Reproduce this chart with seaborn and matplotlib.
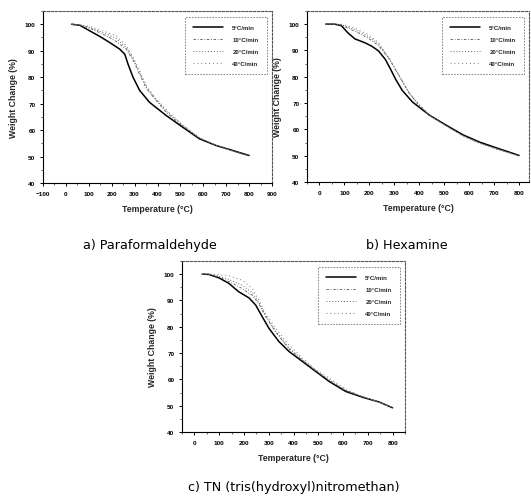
import matplotlib
matplotlib.use("Agg")
import matplotlib.pyplot as plt
from matplotlib.ticker import MultipleLocator
import seaborn as sns
import pandas as pd

# ---------------- data ----------------
rates = ["5°C/min", "10°C/min", "20°C/min", "40°C/min"]

# a) Paraformaldehyde
a_t5 = [25, 61, 104, 148, 191, 235, 257, 271, 293, 322, 365, 438, 510, 583, 655, 728, 800]
a_w5 = [100, 99.6, 97.5, 95.4, 93.1, 90.6, 88.7, 85.0, 80.0, 75.0, 70.5, 65.5, 61.1, 56.7, 54.2, 52.3, 50.4]
a_t = [25, 60, 100, 148, 190, 220, 264, 293, 322, 351, 394, 440, 510, 583, 655, 728, 800]
a_w10 = [100, 99.7, 98.6, 96.8, 95.0, 93.5, 90.5, 86.5, 81.0, 75.8, 71.2, 66.5, 61.5, 56.9, 54.2, 52.2, 50.3]
a_w20 = [100, 99.8, 98.9, 97.3, 95.8, 94.6, 91.2, 87.0, 81.8, 76.2, 71.5, 67.0, 61.8, 57.0, 54.3, 52.1, 50.2]
a_w40 = [100, 99.8, 99.2, 97.9, 96.6, 95.6, 91.8, 87.5, 82.4, 76.8, 71.8, 67.5, 62.0, 57.2, 54.3, 52.0, 50.2]

# b) Hexamine
b_t5 = [25, 61, 88, 115, 142, 183, 210, 237, 264, 285, 305, 332, 373, 441, 508, 576, 644, 712, 800]
b_w5 = [100, 100, 99.4, 96.6, 94.4, 92.9, 91.6, 89.8, 86.6, 82.9, 79.1, 74.8, 70.4, 65.4, 61.6, 57.9, 55.1, 52.9, 50.1]
b_t = [25, 61, 88, 142, 197, 237, 278, 319, 359, 400, 441, 508, 576, 644, 712, 800]
b_w10 = [100, 100, 99.6, 97.3, 94.6, 91.8, 87.0, 80.5, 73.8, 69.0, 65.3, 61.4, 57.6, 54.8, 52.6, 50.0]
b_w20 = [100, 100, 99.8, 97.9, 95.3, 92.4, 87.1, 80.4, 73.9, 69.2, 65.4, 61.3, 57.5, 54.7, 52.5, 49.9]
b_w40 = [100, 100, 100, 98.5, 96.0, 92.9, 87.3, 80.4, 74.1, 69.5, 65.6, 61.3, 57.4, 54.6, 52.4, 49.9]

# c) TN (tris(hydroxyl)nitromethan)
c_t5 = [31, 58, 99, 139, 179, 220, 247, 274, 301, 341, 382, 436, 490, 544, 611, 679, 746, 800]
c_w5 = [100, 99.9, 98.6, 96.5, 93.3, 91.0, 88.3, 83.8, 79.4, 74.4, 70.6, 66.8, 63.0, 59.2, 55.4, 53.2, 51.4, 49.2]
c_t = [31, 58, 99, 139, 193, 233, 260, 287, 328, 382, 436, 490, 544, 611, 679, 746, 800]
c_w10 = [100, 99.9, 98.9, 97.2, 94.5, 92.0, 88.8, 84.0, 78.0, 71.6, 67.2, 63.3, 59.6, 55.7, 53.3, 51.4, 49.2]
c_w20 = [100, 100, 99.2, 98.0, 95.8, 93.0, 89.2, 84.3, 78.4, 72.0, 67.5, 63.4, 59.8, 55.9, 53.4, 51.4, 49.3]
c_w40 = [100, 100, 99.8, 99.4, 97.7, 94.6, 90.2, 85.1, 79.4, 73.1, 68.1, 63.6, 60.5, 56.2, 53.5, 51.4, 49.3]

captions = ["a) Paraformaldehyde", "b) Hexamine", "c) TN (tris(hydroxyl)nitromethan)"]
xlabel = "Temperature (°C)"
ylabel = "Weight Change (%)"

panels = [
    dict(series=[(a_t5, a_w5), (a_t, a_w10), (a_t, a_w20), (a_t, a_w40)],
         xlim=(-100, 900), xticks=list(range(-100, 901, 100)),
         rect_px=(43, 12, 272, 184), cap_px=(150, 245)),
    dict(series=[(b_t5, b_w5), (b_t, b_w10), (b_t, b_w20), (b_t, b_w40)],
         xlim=(-50, 840), xticks=list(range(0, 801, 100)),
         rect_px=(307, 12, 529, 183), cap_px=(407, 245)),
    dict(series=[(c_t5, c_w5), (c_t, c_w10), (c_t, c_w20), (c_t, c_w40)],
         xlim=(-50, 850), xticks=list(range(0, 801, 100)),
         rect_px=(182, 262, 405, 433), cap_px=(294, 488)),
]

styles = [
    dict(color="black", linestyle="-", linewidth=1.1),
    dict(color="#555555", linestyle=(0, (3, 2, 1, 2)), linewidth=0.6),
    dict(color="#666666", linestyle=(0, (1, 2)), linewidth=0.7),
    dict(color="#777777", linestyle=(0, (1, 3)), linewidth=0.7),
]

# ---------------- figure ----------------
sns.set_theme(style="ticks")
plt.rcParams["font.family"] = ["Liberation Sans", "DejaVu Sans"]
plt.rcParams["font.weight"] = "bold"

W, H = 531, 502
fig = plt.figure(figsize=(W / 100, H / 100), dpi=100)
fig.patch.set_facecolor("white")

for p, cap in zip(panels, captions):
    l, t, r, b = p["rect_px"]
    ax = fig.add_axes([l / W, 1 - b / H, (r - l) / W, (b - t) / H])
    ax.set_facecolor("white")
    for (tx, wy), lab, st in zip(p["series"], rates, styles):
        df = pd.DataFrame({"T": tx, "W": wy})
        sns.lineplot(data=df, x="T", y="W", ax=ax, label=lab, **st)
    ax.set_xlim(*p["xlim"])
    ax.set_ylim(40, 105)
    ax.set_xticks(p["xticks"])
    ax.set_yticks(list(range(40, 101, 10)))
    ax.xaxis.set_minor_locator(MultipleLocator(50))
    ax.yaxis.set_minor_locator(MultipleLocator(5))
    ax.tick_params(axis="both", which="major", direction="out", length=2.5,
                   width=0.7, labelsize=4.6, pad=3, colors="black")
    ax.tick_params(axis="both", which="minor", direction="out", length=1.3, width=0.5)
    for lab_ in ax.get_xticklabels() + ax.get_yticklabels():
        lab_.set_fontweight("bold")
    ax.set_xlabel(xlabel, fontsize=6.3, fontweight="bold", labelpad=6)
    ax.set_ylabel(ylabel, fontsize=6.3, fontweight="bold", labelpad=5)
    for s in ["left", "bottom"]:
        ax.spines[s].set_color("black")
        ax.spines[s].set_linewidth(0.8)
    for s in ["top", "right"]:
        ax.spines[s].set_color("#555555")
        ax.spines[s].set_linestyle((0, (2, 1.5)))
        ax.spines[s].set_linewidth(0.8)
    leg = ax.legend(loc="upper right", fontsize=4.4, frameon=True, fancybox=False,
                    handlelength=5, borderpad=1.3, labelspacing=1.1,
                    borderaxespad=0.9, handletextpad=1.5)
    leg.get_frame().set_edgecolor("#555555")
    leg.get_frame().set_linestyle((0, (2, 1.5)))
    leg.get_frame().set_linewidth(0.6)
    for txt in leg.get_texts():
        txt.set_fontweight("bold")
    cx, cy = p["cap_px"]
    fig.text(cx / W, 1 - cy / H, cap, ha="center", va="center", fontsize=9.2,
             fontweight="normal", family=["DejaVu Sans"], color="black")

fig.savefig("out.png", dpi=100, facecolor="white")
